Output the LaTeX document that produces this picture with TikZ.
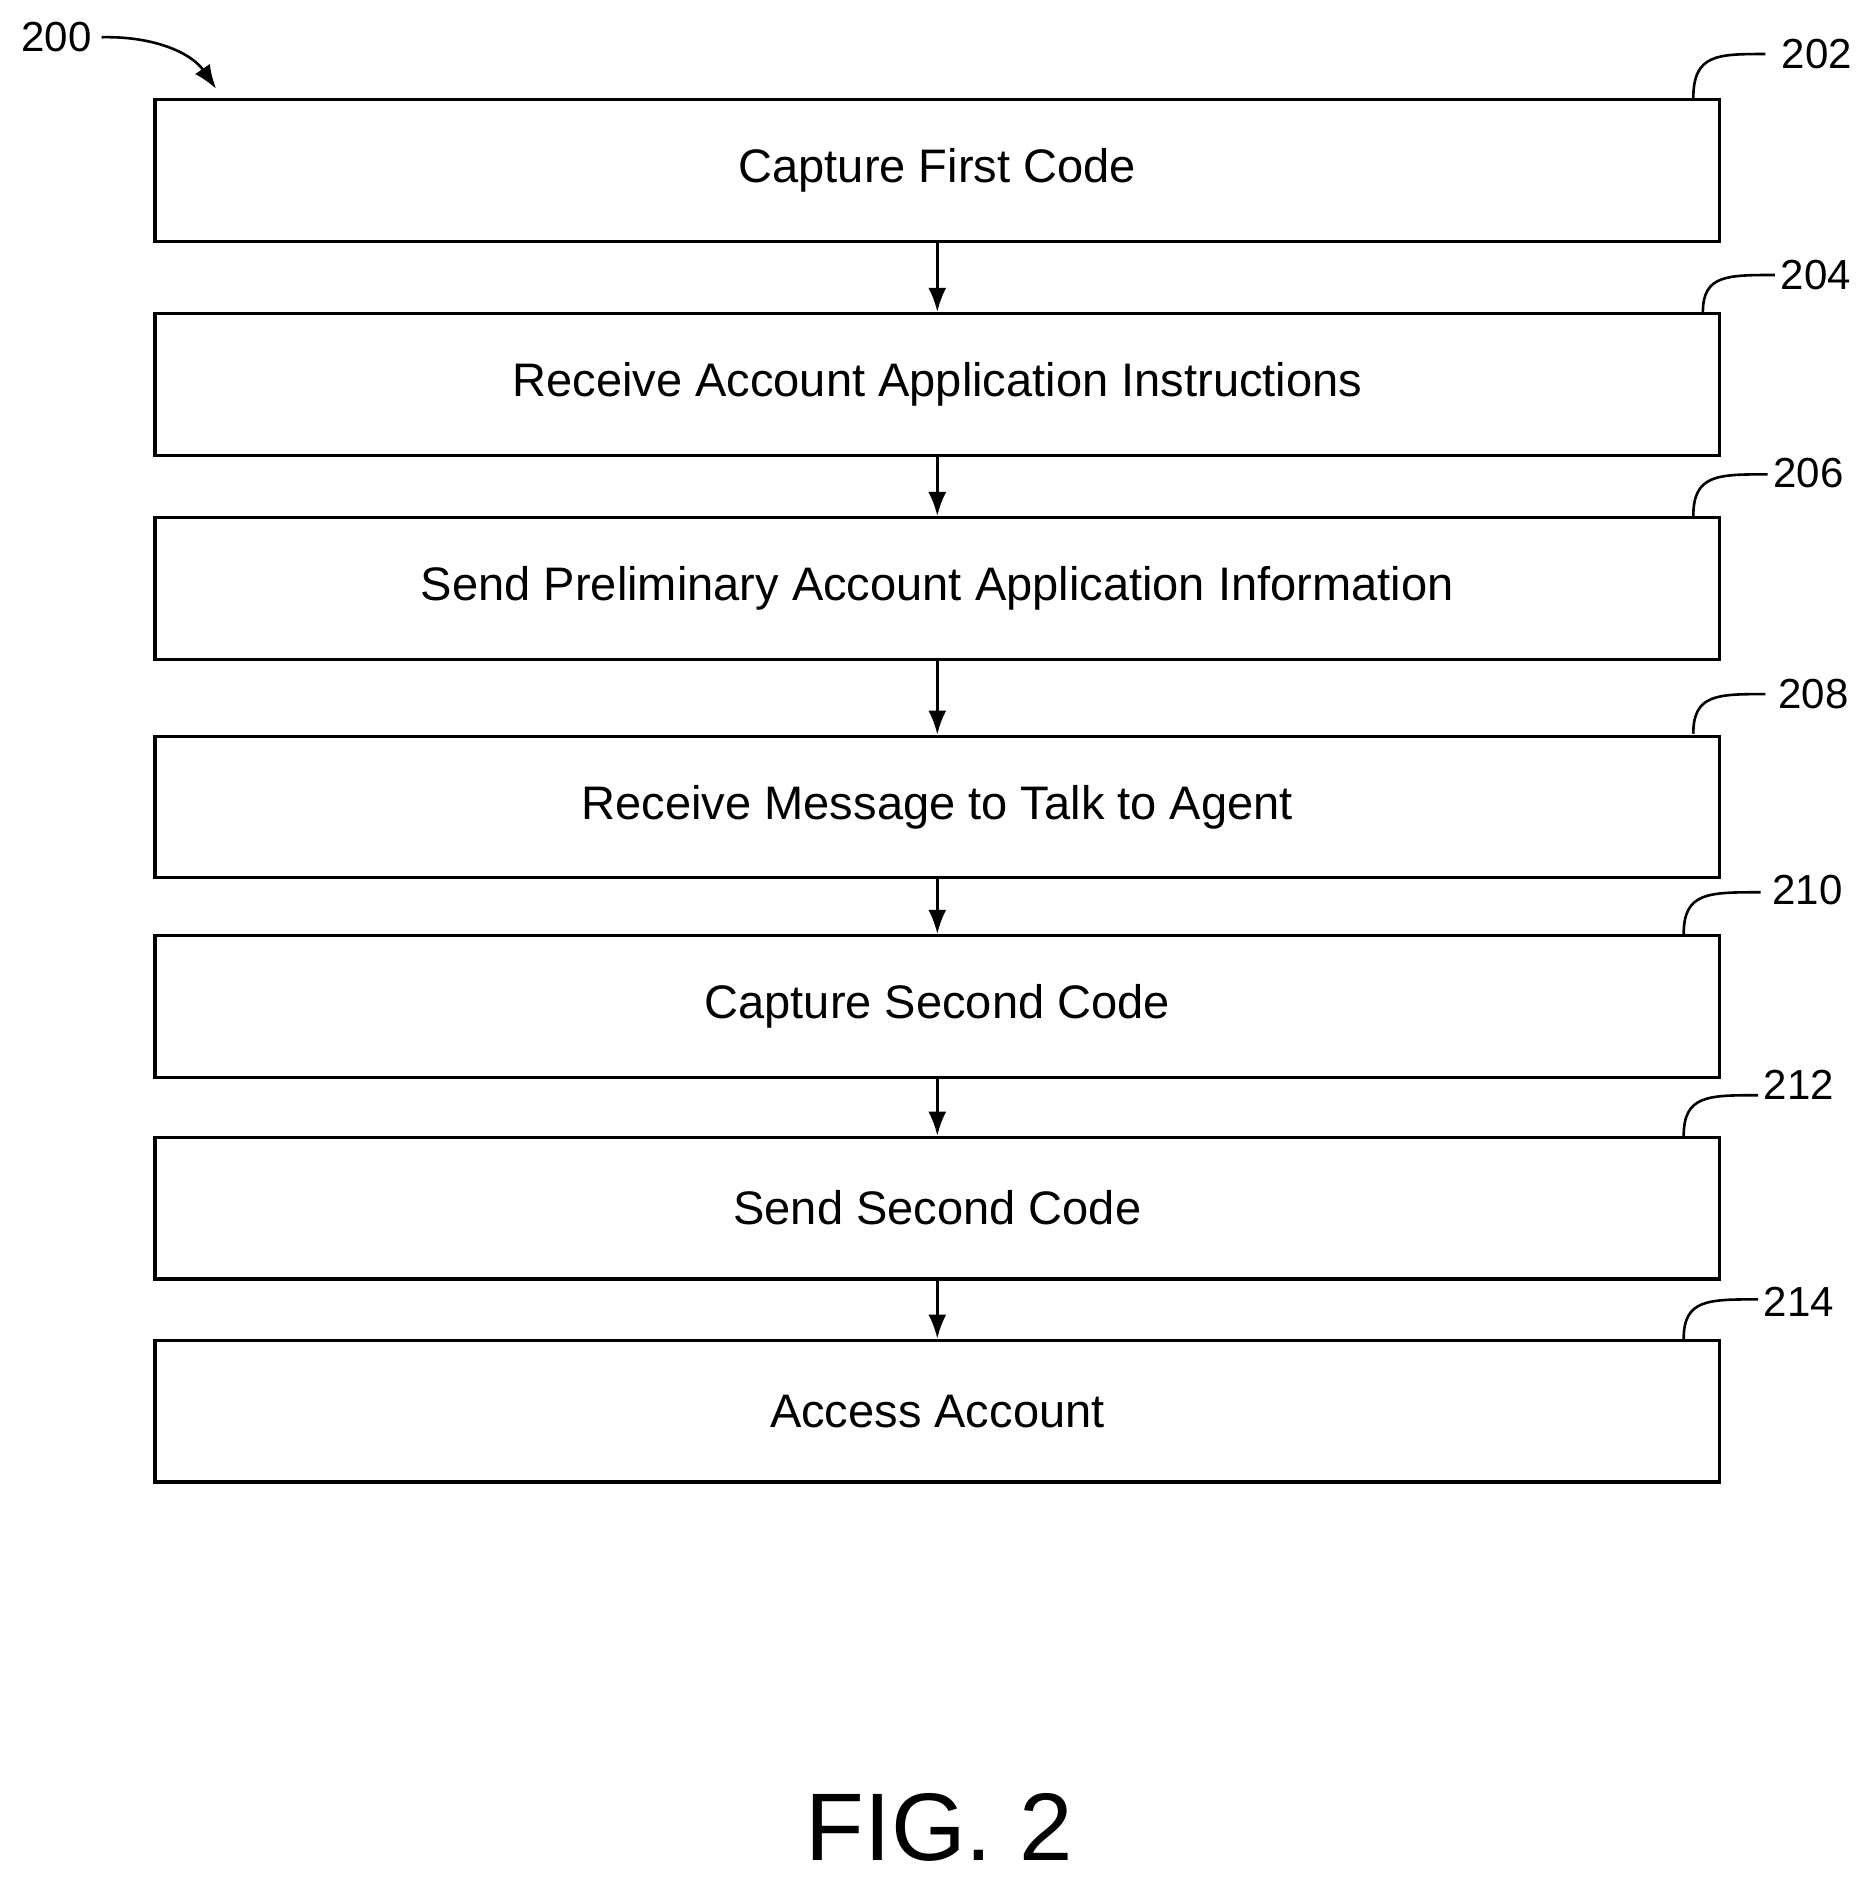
\documentclass[tikz,border=0pt]{standalone}
\usepackage{fontspec}
\setmainfont{Liberation Sans}
\usetikzlibrary{arrows.meta}
\begin{document}
\begin{tikzpicture}[x=0.6pt,y=-0.6pt,
  box/.style={draw,line width=1.6pt,minimum width=1303*0.6pt,minimum height=118*0.6pt,inner sep=0,font=\fontsize{23.5}{28}\selectfont},
  flow/.style={draw,line width=1.3pt,-{Latex[length=12pt,width=9pt]}},
  lead/.style={draw,line width=1.3pt},
  num/.style={font=\fontsize{21}{25}\selectfont,inner sep=0}]
\useasboundingbox (0,0) rectangle (1561,1568);
\node[box] (b1) at (780.5,142) {\raisebox{-2pt}{Capture First Code}};
\node[box] (b2) at (780.5,320) {\raisebox{-2pt}{Receive Account Application Instructions}};
\node[box] (b3) at (780.5,490) {\raisebox{-2pt}{Send Preliminary Account Application Information}};
\node[box] (b4) at (780.5,672) {\raisebox{-2pt}{Receive Message to Talk to Agent}};
\node[box] (b5) at (780.5,838) {\raisebox{-2pt}{Capture Second Code}};
\node[box] (b6) at (780.5,1006) {\raisebox{-2pt}{Send Second Code}};
\node[box] (b7) at (780.5,1175) {\raisebox{-2pt}{Access Account}};
\foreach \a/\b in {b1/b2,b2/b3,b3/b4,b4/b5,b5/b6,b6/b7}
  \draw[flow] (\a.south) -- (\b.north);
\node[num] (n200) at (47,31) {200};
\coordinate (e200) at (180,74);
\draw[line width=1.3pt,-{Latex[length=12pt,width=9pt]}] (n200.east)+(8,0) .. controls (130,30) and (160,45) .. (e200);
\foreach \n/\sx/\sy/\ex/\ey/\lx/\ly in {202/1410/82/1470/45/1513/45, 204/1418/260/1478/229/1512/229, 206/1410/430/1472/395/1506/394, 208/1410/611/1470/578/1510/578, 210/1402/778/1466/743/1505/741, 212/1402/946/1464/912/1498/903, 214/1402/1115/1464/1082/1498/1084}{
  \node[num] (n\n) at (\lx,\ly) {\n};
  \coordinate (s\n) at (\sx,\sy);
  \draw[lead] (s\n) .. controls (\sx,\ey) and (\sx+20,\ey) .. (\ex,\ey);
}
\node[font=\fontsize{48}{58}\selectfont,inner sep=0] (fig) at (782,1522) {FIG. 2};
\end{tikzpicture}
\end{document}
